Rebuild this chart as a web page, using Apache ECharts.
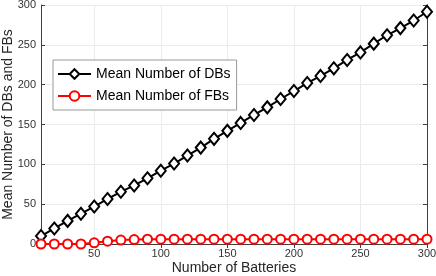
<!DOCTYPE html>
<html><head><meta charset="utf-8">
<script src="https://cdn.jsdelivr.net/npm/echarts@6/dist/echarts.min.js"></script>
<style>html,body{margin:0;padding:0;background:#fff}#c{width:436px;height:276px}</style>
</head><body><div id="c"></div>
<script>
const batteries = [10,20,30,40,50,60,70,80,90,100,110,120,130,140,150,160,170,180,190,200,210,220,230,240,250,260,270,280,290,300];
const meanDBs = [10,19.5,29,38,47,56.5,65.5,73.5,82.5,92,101,111,121,132,142,152,162,171.5,182,192,202,211,220.5,231,240.5,251.5,262,271,280.5,291.5];
const meanFBs = [0,0,0,0,1.5,3.5,5,5.5,6,6,6,6,6,6,6,6,6,6,6,6,6,6,6,6,6,6,6,6,6,6];
const xTicks = [50,100,150,200,250,300];
const yTicks = [0,50,100,150,200,250,300];
const seriesNames = ['Mean Number of DBs','Mean Number of FBs'];

const chart = echarts.init(document.getElementById('c'), null, {renderer:'canvas'});
const axisCol = '#404040';
const font = 'Liberation Sans, Arial, Helvetica, sans-serif';
chart.setOption({
  animation:false,
  backgroundColor:'#fff',
  grid:{left:41,right:9,top:5,bottom:32,containLabel:false,outerBoundsMode:'none'},
  legend:{
    left:53, top:60, orient:'vertical',
    padding:[7,6,7,4], itemGap:8,
    backgroundColor:'#fff', borderColor:'#999', borderWidth:1,
    itemWidth:33, itemHeight:12,
    textStyle:{fontFamily:font,fontSize:14,color:'#000'},
    data:seriesNames
  },
  xAxis:[{
    type:'value', min:10, max:300,
    name:'Number of Batteries', nameLocation:'middle', nameGap:17, nameMoveOverlap:false,
    nameTextStyle:{fontFamily:font,fontSize:14,color:'#262626'},
    axisLine:{show:true,lineStyle:{color:axisCol,width:1}},
    axisTick:{show:true,inside:true,length:4,customValues:xTicks,lineStyle:{color:axisCol}},
    axisLabel:{customValues:xTicks,fontFamily:font,fontSize:11,color:'#333',margin:4},
    splitLine:{show:true,lineStyle:{color:'#ebebeb',width:1}}
  },{
    type:'value', min:10, max:300, position:'top',
    axisLine:{show:true,lineStyle:{color:axisCol,width:1}},
    axisTick:{show:true,inside:true,length:4,customValues:xTicks,lineStyle:{color:axisCol}},
    axisLabel:{show:false}, splitLine:{show:false}
  }],
  yAxis:[{
    type:'value', min:0, max:300, interval:50,
    name:'Mean Number of DBs and FBs', nameLocation:'middle', nameGap:26, nameMoveOverlap:false,
    nameTextStyle:{fontFamily:font,fontSize:14,color:'#262626'},
    axisLine:{show:true,lineStyle:{color:axisCol,width:1}},
    axisTick:{show:true,inside:true,length:4,lineStyle:{color:axisCol}},
    axisLabel:{fontFamily:font,fontSize:11,color:'#333',margin:5},
    splitLine:{show:true,lineStyle:{color:'#ebebeb',width:1}}
  },{
    type:'value', min:0, max:300, interval:50, position:'right',
    axisLine:{show:true,lineStyle:{color:axisCol,width:1}},
    axisTick:{show:true,inside:true,length:4,lineStyle:{color:axisCol}},
    axisLabel:{show:false}, splitLine:{show:false}
  }],
  series:[{
    name:seriesNames[0], type:'line',
    data:batteries.map((b,i)=>[b,meanDBs[i]]),
    symbol:'diamond', symbolSize:[10,12],
    lineStyle:{color:'#000',width:2},
    itemStyle:{color:'#fff',borderColor:'#000',borderWidth:2},
    z:3
  },{
    name:seriesNames[1], type:'line',
    data:batteries.map((b,i)=>[b,meanFBs[i]]),
    symbol:'circle', symbolSize:9,
    lineStyle:{color:'#ff0000',width:2},
    itemStyle:{color:'#fff',borderColor:'#ff0000',borderWidth:2},
    z:4
  }]
});
</script></body></html>
